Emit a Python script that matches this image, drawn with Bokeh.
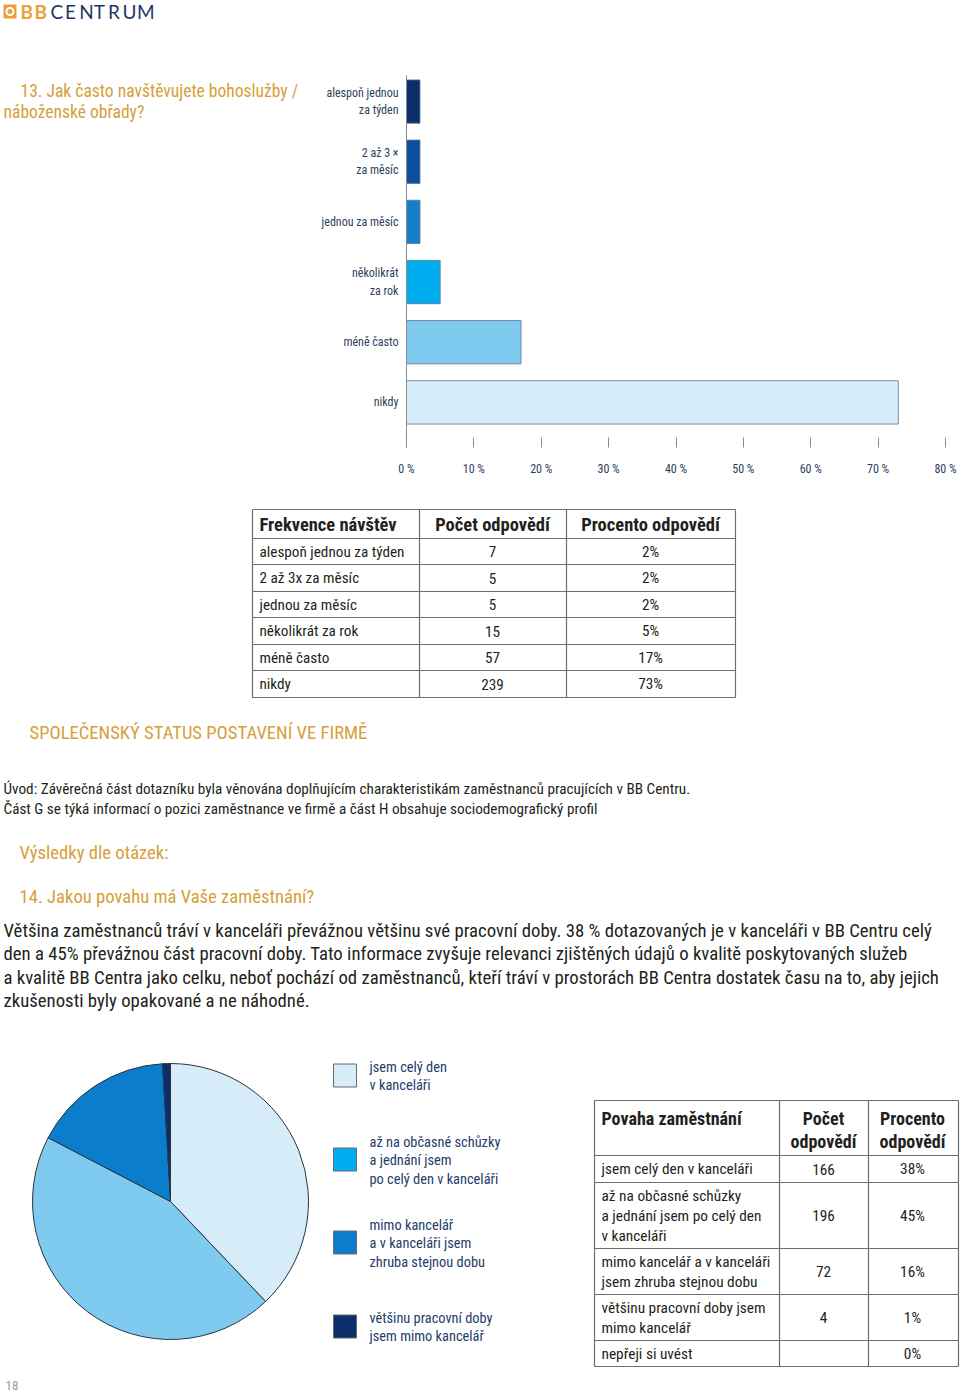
import subprocess
import numpy as np
from bokeh.plotting import figure
from bokeh.models import Range1d, ColumnDataSource, FixedTicker, PrintfTickFormatter
from bokeh.layouts import column, row
from bokeh.core.properties import value
from bokeh.embed import file_html
from bokeh.resources import INLINE

# ---------------- data ----------------
freq_categories = ["alespoň jednou za týden", "2 až 3x za měsíc", "jednou za měsíc",
                   "několikrát za rok", "méně často", "nikdy"]
freq_axis_labels = ["alespoň jednou\nza týden", "2 až 3 ×\nza měsíc", "jednou za měsíc",
                    "několikrát\nza rok", "méně často", "nikdy"]
freq_counts = [7, 5, 5, 15, 57, 239]
freq_percent = [2, 2, 2, 5, 17, 73]
x_ticks = [0, 10, 20, 30, 40, 50, 60, 70, 80]
table1_header = ["Frekvence návštěv", "Počet odpovědí", "Procento odpovědí"]

job_table_labels = [["jsem celý den v kanceláři"],
                    ["až na občasné schůzky", "a jednání jsem po celý den", "v kanceláři"],
                    ["mimo kancelář a v kanceláři", "jsem zhruba stejnou dobu"],
                    ["většinu pracovní doby jsem", "mimo kancelář"],
                    ["nepřeji si uvést"]]
job_legend_labels = [["jsem celý den", "v kanceláři"],
                     ["až na občasné schůzky", "a jednání jsem", "po celý den v kanceláři"],
                     ["mimo kancelář", "a v kanceláři jsem", "zhruba stejnou dobu"],
                     ["většinu pracovní doby", "jsem mimo kancelář"]]
job_counts = [166, 196, 72, 4, None]
job_percent = [38, 45, 16, 1, 0]
table2_header = [["Povaha zaměstnání"], ["Počet", "odpovědí"], ["Procento", "odpovědí"]]

# ---------------- fonts ----------------
try:
    fams = subprocess.run(["fc-list", ":", "family"], capture_output=True, text=True).stdout
except Exception:
    fams = ""
FONT = "Roboto"
for cand in ["Liberation Sans Narrow", "Roboto Condensed", "Arial Narrow"]:
    if cand in fams:
        FONT = cand
        break

_cache = {}


def _font(bold, size=100):
    key = (bold, size)
    if key not in _cache:
        from PIL import ImageFont
        path = subprocess.run(["fc-match", "-f", "%{file}", f"{FONT}:{'bold' if bold else 'regular'}"],
                              capture_output=True, text=True).stdout.strip()
        _cache[key] = ImageFont.truetype(path, size)
    return _cache[key]


def fit(text, width, default, bold=False):
    try:
        w = _font(bold).getlength(text)
        return round(100.0 * width / w, 2)
    except Exception:
        return default


# sizes fitted to the widths of the reference lines
S_TITLE = fit("13. Jak často navštěvujete bohoslužby /", 278, 15)
S_BARLAB = fit("jednou za měsíc", 77, 10.5)
S_T1H = fit("Frekvence návštěv", 134, 14, bold=True)
S_T1 = fit("alespoň jednou za týden", 145, 13.5)
S_GOLD = fit("14. Jakou povahu má Vaše zaměstnání?", 295, 15.5)
S_INTRO = fit("Úvod: Závěrečná část dotazníku byla věnována doplňujícím charakteristikám zaměstnanců pracujících v BB Centru.", 687, 13.5)
S_PARA = fit("Většina zaměstnanců tráví v kanceláři převážnou většinu své pracovní doby. 38 % dotazovaných je v kanceláři v BB Centru celý", 929, 16)
S_LEG = fit("až na občasné schůzky", 131, 13)
S_T2H = fit("Povaha zaměstnání", 139, 14.5, bold=True)
S_T2 = fit("a jednání jsem po celý den", 160, 13)

GOLD = "#d6a03a"
DARK = "#231f20"
SLATE = "#2e3f5e"
NAVY_TXT = "#253c69"
GRID = "#6d6d6d"
bar_colors = ["#0b2f6b", "#0b4f9e", "#1480cc", "#00aeef", "#7fcaef", "#d6ecf9"]
pie_colors = ["#d6ecf9", "#7fcaef", "#0a7ecc", "#0b2f6b"]
legend_colors = ["#d6ecf9", "#00aeef", "#0a7ecc", "#0b2f6b"]

W, H = 960, 1393


def page_fig(w, h):
    p = figure(width=w, height=h, x_range=Range1d(0, w), y_range=Range1d(0, h),
               output_backend="svg", toolbar_location=None, min_border=0,
               background_fill_color="white", border_fill_color="white")
    p.axis.visible = False
    p.grid.visible = False
    p.outline_line_color = None
    return p


def put(p, top, x, py, s, size, color=DARK, bold=False, align="left", font=None):
    h = p.height
    p.text(x=[x], y=[top + h - py], text=[s], text_font=value(font or FONT),
           text_font_size=value(f"{size}px"), text_color=color,
           text_font_style="bold" if bold else "normal",
           text_align=align, text_baseline="middle")


# ---------------- header ----------------
head = page_fig(W, 70)
head.rect(x=[9.5], y=[70 - 11], width=13, height=14, fill_color="#e8a13a", line_color=None)
head.circle(x=[9.5], y=[70 - 11], radius=3.5, fill_color=None, line_color="white", line_width=2)
put(head, 0, 20, 11, "B", 19, color="#e8a13a", font="Lato", bold=True)
put(head, 0, 34, 11, "B", 19, color="#e8a13a", font="Lato", bold=True)
for i, ch in enumerate("CENTRUM"):
    put(head, 0, 50 + i * 14.4, 11, ch, 19, color="#1e3766", font="Lato")

# ---------------- title (left of bar chart) ----------------
TOP_B = 70
TW = 300
tfig = page_fig(TW, 410)
put(tfig, TOP_B, 20, 87, "13. Jak často navštěvujete bohoslužby /", S_TITLE, color=GOLD)
put(tfig, TOP_B, 3, 110, "náboženské obřady?", S_TITLE, color=GOLD)

# ---------------- bar chart ----------------
bar = figure(width=W - TW, height=410, x_range=Range1d(0, 80), y_range=Range1d(5.75, -0.433),
             output_backend="svg", toolbar_location=None,
             min_border_left=406 - TW, min_border_right=15, min_border_top=5, min_border_bottom=33,
             background_fill_color="white", border_fill_color="white")
bar.grid.visible = False
bar.outline_line_color = None
ys = list(range(len(freq_categories)))
bsrc = ColumnDataSource(dict(y=ys, v=freq_percent, c=bar_colors, name=freq_categories))
bar.hbar(y="y", left=0, right="v", height=0.72, fill_color="c", line_color="#5f7391",
         line_width=0.8, source=bsrc)
bar.xaxis.ticker = FixedTicker(ticks=x_ticks)
bar.xaxis.formatter = PrintfTickFormatter(format="%d %%")
bar.xaxis.axis_line_color = None
bar.xaxis.major_tick_in = 10
bar.xaxis.major_tick_out = 0
bar.xaxis.major_tick_line_color = "#8c8c8c"
bar.xaxis.minor_tick_line_color = None
bar.xaxis.major_label_standoff = 14
bar.xaxis.major_label_text_font = FONT
bar.xaxis.major_label_text_font_size = f"{S_BARLAB}px"
bar.xaxis.major_label_text_color = SLATE
bar.yaxis.ticker = FixedTicker(ticks=ys)
bar.yaxis.major_label_overrides = {i: s for i, s in enumerate(freq_axis_labels)}
bar.yaxis.axis_line_color = "#8c8c8c"
bar.yaxis.major_tick_line_color = None
bar.yaxis.minor_tick_line_color = None
bar.yaxis.major_label_standoff = 2
bar.yaxis.major_label_text_font = FONT
bar.yaxis.major_label_text_font_size = f"{S_BARLAB}px"
bar.yaxis.major_label_text_color = SLATE
bar.yaxis.major_label_text_line_height = 1.25

# ---------------- bottom page ----------------
TOP_C = 480
bot = page_fig(W, H - TOP_C)
Y = lambda py: H - py


def lines(p, segs):
    x0, y0, x1, y1 = zip(*segs)
    p.segment(x0=list(x0), y0=[Y(v) for v in y0], x1=list(x1), y1=[Y(v) for v in y1],
              line_color=GRID, line_width=1.2)


# table 1
t1x = [252, 419, 566, 735]
t1y = [509, 538, 564, 591, 617, 644, 670, 697]
segs = [(t1x[0], yy, t1x[-1], yy) for yy in t1y] + [(xx, t1y[0], xx, t1y[-1]) for xx in t1x]
lines(bot, segs)
put(bot, TOP_C, 259, 524, table1_header[0], S_T1H, bold=True)
put(bot, TOP_C, 492, 524, table1_header[1], S_T1H, bold=True, align="center")
put(bot, TOP_C, 650, 524, table1_header[2], S_T1H, bold=True, align="center")
for i, (lab, c, pc) in enumerate(zip(freq_categories, freq_counts, freq_percent)):
    cy = (t1y[i + 1] + t1y[i + 2]) / 2
    put(bot, TOP_C, 259, cy, lab, S_T1)
    put(bot, TOP_C, 492, cy, str(c), S_T1, align="center")
    put(bot, TOP_C, 650, cy, f"{pc}%", S_T1, align="center")

# texts
put(bot, TOP_C, 29, 732, "SPOLEČENSKÝ STATUS POSTAVENÍ VE FIRMĚ", S_GOLD, color=GOLD)
put(bot, TOP_C, 3, 788, "Úvod: Závěrečná část dotazníku byla věnována doplňujícím charakteristikám zaměstnanců pracujících v BB Centru.", S_INTRO)
put(bot, TOP_C, 3, 808, "Část G se týká informací o pozici zaměstnance ve firmě a část H obsahuje sociodemografický profil", S_INTRO)
put(bot, TOP_C, 19, 852, "Výsledky dle otázek:", S_GOLD, color=GOLD)
put(bot, TOP_C, 19, 896, "14. Jakou povahu má Vaše zaměstnání?", S_GOLD, color=GOLD)
para = ["Většina zaměstnanců tráví v kanceláři převážnou většinu své pracovní doby. 38 % dotazovaných je v kanceláři v BB Centru celý",
        "den a 45% převážnou část pracovní doby. Tato informace zvyšuje relevanci zjištěných údajů o kvalitě poskytovaných služeb",
        "a kvalitě BB Centra jako celku, neboť pochází od zaměstnanců, kteří tráví v prostorách BB Centra dostatek času na to, aby jejich",
        "zkušenosti byly opakované a ne náhodné."]
for i, s in enumerate(para):
    put(bot, TOP_C, 3, 930 + i * 23.5, s, S_PARA)

# pie
vals = np.array([c for c in job_counts if c], dtype=float)
cum = np.concatenate([[0], np.cumsum(vals) / vals.sum()])
start = np.pi / 2 - 2 * np.pi * cum[1:]
end = np.pi / 2 - 2 * np.pi * cum[:-1]
psrc = ColumnDataSource(dict(s=start, e=end, c=pie_colors[:len(vals)]))
bot.wedge(x=170, y=Y(1201), radius=138, start_angle="s", end_angle="e", fill_color="c",
          line_color="#2b3440", line_width=1, source=psrc)

# legend
leg_y = [1075, 1159, 1242, 1326]
bot.rect(x=[344.5] * 4, y=[Y(v) for v in leg_y], width=23, height=23,
         fill_color=legend_colors, line_color="#6b6b6b", line_width=1)
for ly0, labs in zip(leg_y, job_legend_labels):
    n = len(labs)
    for j, s in enumerate(labs):
        put(bot, TOP_C, 369, ly0 - (n - 1) * 9.25 + j * 18.5 + 1, s, S_LEG, color=NAVY_TXT)

# table 2
t2x = [594, 779, 868, 958]
t2y = [1100, 1155, 1182, 1248, 1294, 1340, 1366]
segs = [(t2x[0], yy, t2x[-1], yy) for yy in t2y] + [(xx, t2y[0], xx, t2y[-1]) for xx in t2x]
lines(bot, segs)
put(bot, TOP_C, 601, 1118, table2_header[0][0], S_T2H, bold=True)
for cx, hl in zip([823, 912], table2_header[1:]):
    put(bot, TOP_C, cx, 1118, hl[0], S_T2H, bold=True, align="center")
    put(bot, TOP_C, cx, 1141, hl[1], S_T2H, bold=True, align="center")
for i, (labs, c, pc) in enumerate(zip(job_table_labels, job_counts, job_percent)):
    cy = (t2y[i + 1] + t2y[i + 2]) / 2
    n = len(labs)
    for j, s in enumerate(labs):
        put(bot, TOP_C, 601, cy - (n - 1) * 10 + j * 20, s, S_T2)
    if c is not None:
        put(bot, TOP_C, 823, cy, str(c), S_T2, align="center")
    put(bot, TOP_C, 912, cy, f"{pc}%", S_T2, align="center")

put(bot, TOP_C, 5, 1385, "18", 13, color="#9a9a9a")

layout = column(head, row(tfig, bar), bot)
open("out.html", "w").write(file_html(layout, INLINE))
